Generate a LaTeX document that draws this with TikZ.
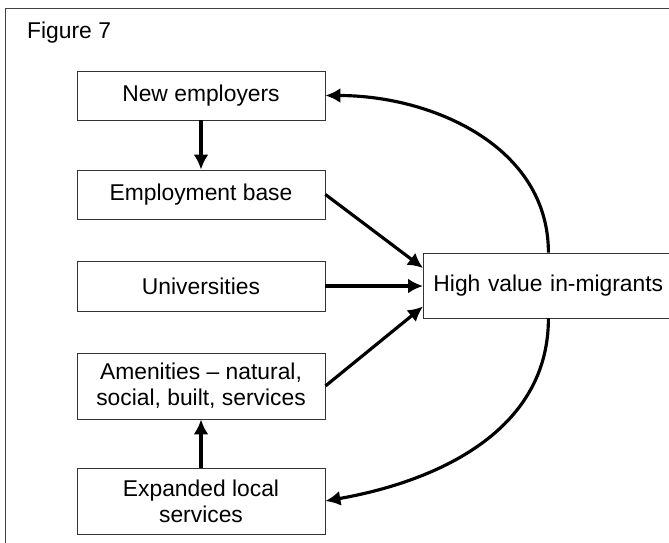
\documentclass[tikz,border=0pt]{standalone}
\usepackage{fontspec}
\setmainfont{Liberation Sans}
\usetikzlibrary{arrows.meta}
\begin{document}
\begin{tikzpicture}[x=0.02cm, y=0.02cm, >={Latex[length=0.3cm, width=0.3cm]},
  box/.style={draw=black!80, line width=0.5pt, rectangle, inner sep=0pt, align=center,
    minimum width=4.96cm, font=\fontsize{13}{14.8}\selectfont},
  arr/.style={->, line width=1.8pt}]
\useasboundingbox (0,0) rectangle (669,-542);
\draw[black!75, line width=1pt] (5.5,-8.5) rectangle (700,-580);
\node[anchor=west, font=\fontsize{13}{14.8}\selectfont] (fig) at (21,-33) {Figure 7};
\node[box, minimum height=0.98cm] (ne) at (201,-95.5) {New employers};
\node[box, minimum height=0.98cm] (eb) at (201,-194.5) {Employment base};
\node[box, minimum height=1cm] (uni) at (201,-286) {Universities};
\node[box, minimum height=1.32cm] (am) at (201,-386) {Amenities -- natural,\\social, built, services};
\node[box, minimum height=1.32cm] (ex) at (201,-501) {Expanded local\\services};
\node[box, anchor=west, minimum width=5.1cm, minimum height=1.3cm, text width=4.9cm, align=left] (hv) at (423,-285.5) {\hspace*{0.1cm}High value in-migrants};
\draw[arr] (ne) -- (eb);
\draw[arr] (eb.east) -- ([yshift=0.35cm]hv.west);
\draw[arr] (uni) -- (uni -| hv.west);
\draw[arr] (am.east) -- ([yshift=-0.42cm]hv.west);
\draw[arr] (ex) -- (am);
\draw[arr] ([xshift=-0.05cm]hv.north) to[out=90, in=0] (ne.east);
\draw[arr] ([xshift=-0.05cm]hv.south) to[out=-90, in=10] (ex.east);
\end{tikzpicture}
\end{document}
